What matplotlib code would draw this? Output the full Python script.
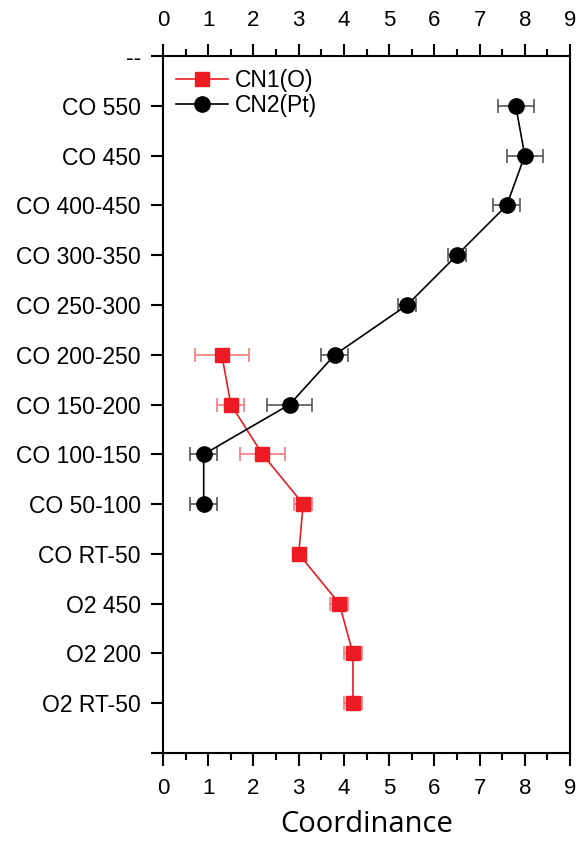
import numpy as np
import matplotlib.pyplot as plt
from matplotlib.lines import Line2D

# categories from top to bottom ('--' on top, blank at bottom)
categories = ['--', 'CO 550', 'CO 450', 'CO 400-450', 'CO 300-350', 'CO 250-300',
              'CO 200-250', 'CO 150-200', 'CO 100-150', 'CO 50-100', 'CO RT-50',
              'O2 450', 'O2 200', 'O2 RT-50', '']

# CN1(O)
cn1_cats = ['CO 200-250', 'CO 150-200', 'CO 100-150', 'CO 50-100', 'CO RT-50',
            'O2 450', 'O2 200', 'O2 RT-50']
cn1_vals = [1.3, 1.5, 2.2, 3.1, 3.0, 3.9, 4.2, 4.2]
cn1_err = [0.6, 0.3, 0.5, 0.2, 0.1, 0.2, 0.2, 0.2]

# CN2(Pt)
cn2_cats = ['CO 550', 'CO 450', 'CO 400-450', 'CO 300-350', 'CO 250-300',
            'CO 200-250', 'CO 150-200', 'CO 100-150', 'CO 50-100']
cn2_vals = [7.8, 8.0, 7.6, 6.5, 5.4, 3.8, 2.8, 0.9, 0.9]
cn2_err = [0.4, 0.4, 0.3, 0.2, 0.2, 0.3, 0.5, 0.3, 0.3]

n = len(categories)
ypos = {c: n - 1 - i for i, c in enumerate(categories)}

fig = plt.figure(figsize=(5.76, 8.41), dpi=100)
ax = fig.add_axes([0.283, 0.1046, 0.7066, 0.8288])

red = '#ED1C24'
y1 = [ypos[c] for c in cn1_cats]
y2 = [ypos[c] for c in cn2_cats]

ax.errorbar(cn1_vals, y1, xerr=cn1_err, color=red, marker='s', markersize=10,
            lw=1.2, ecolor='#F47A80', elinewidth=1.2, capsize=5, capthick=1.2,
            zorder=3)
ax.errorbar(cn2_vals, y2, xerr=cn2_err, color='black', marker='o', markersize=11,
            lw=1.2, ecolor='#555555', elinewidth=1.2, capsize=5, capthick=1.2,
            zorder=4)

ax.set_xlim(0, 9)
ax.set_ylim(0, n - 1)
ax.set_xticks(np.arange(0, 10))
ax.set_xticks(np.arange(0.5, 9, 1), minor=True)
ax.set_yticks([ypos[c] for c in categories])
ax.set_yticklabels(categories, fontfamily='Liberation Sans', fontsize=16.5)

ax.tick_params(axis='x', which='major', direction='out', length=9, width=1.5,
               top=True, labeltop=True, labelsize=16, pad=9)
ax.tick_params(axis='x', which='minor', direction='out', length=5, width=1.5, top=True)
ax.tick_params(axis='y', which='major', direction='out', length=9, width=1.5, pad=7)
for lab in ax.get_xticklabels():
    lab.set_fontfamily('Liberation Sans')

for s in ax.spines.values():
    s.set_linewidth(1.5)

ax.set_xlabel('Coordinance', fontfamily='Open Sans', fontsize=21, labelpad=8)

handles = [Line2D([], [], color=red, marker='s', markersize=10, lw=1.2),
           Line2D([], [], color='black', marker='o', markersize=11, lw=1.2)]
ax.legend(handles, ['CN1(O)', 'CN2(Pt)'], loc='upper left', frameon=False,
          handlelength=2.3, handletextpad=0.3, borderaxespad=0.15, labelspacing=0.1,
          prop={'family': 'Liberation Sans', 'size': 16.5})

fig.savefig('out.png', dpi=100)
